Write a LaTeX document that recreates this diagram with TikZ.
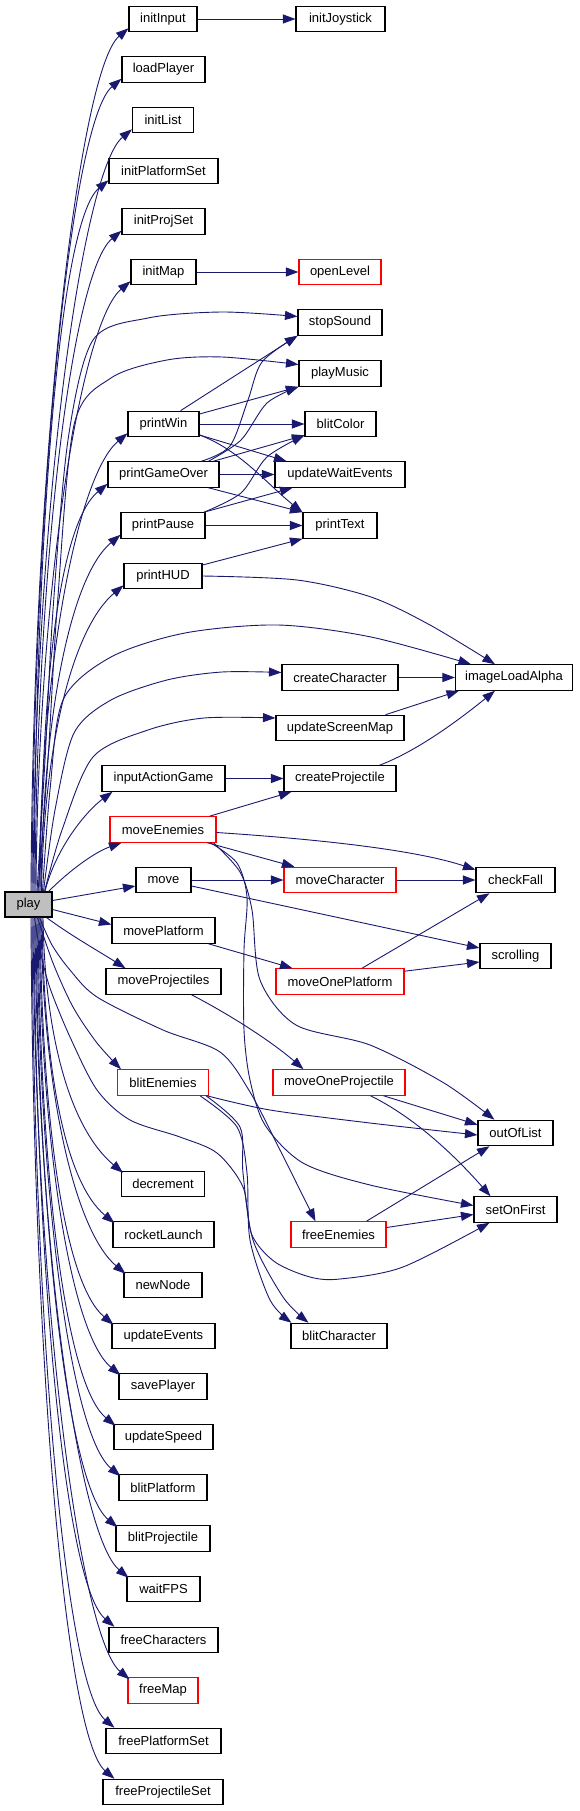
\documentclass[tikz,border=0pt]{standalone}
\usepackage{fontspec}
\setmainfont{Liberation Sans}
\usetikzlibrary{arrows.meta}
\definecolor{edgecol}{RGB}{25,25,112}
\definecolor{playgray}{RGB}{191,191,191}
\newcommand{\nfont}{\fontsize{13pt}{15pt}\selectfont}
\begin{document}
\begin{tikzpicture}[x=1pt,y=-1pt,
 box/.style={draw=black,line width=1.1pt,fill=white,minimum height=25.5pt,inner sep=0pt,font=\nfont},
 rbox/.style={box,draw=red},
 e/.style={draw=edgecol,line width=0.9pt,-{Triangle[length=12.5pt,width=9pt]}},
]
\fill[white] (0,0) rectangle (579,1811);
\useasboundingbox (0,0) rectangle (579,1811);
% root
\node[box,fill=playgray,minimum width=47pt,minimum height=25pt] (play) at (28.5,904.5) {play};
% column 1
\node[box,minimum width=68pt] (initInput) at (163,19) {initInput};
\node[box,minimum width=83pt] (loadPlayer) at (163.5,69.5) {loadPlayer};
\node[box,minimum width=61pt] (initList) at (163,120) {initList};
\node[box,minimum width=109pt] (initPlatformSet) at (163.5,171) {initPlatformSet};
\node[box,minimum width=83pt] (initProjSet) at (163.5,221.5) {initProjSet};
\node[box,minimum width=65pt] (initMap) at (163.5,272) {initMap};
\node[box,minimum width=71pt] (printWin) at (163.5,424) {printWin};
\node[box,minimum width=111pt] (printGameOver) at (163.5,474.5) {printGameOver};
\node[box,minimum width=84pt] (printPause) at (163,525.5) {printPause};
\node[box,minimum width=78pt] (printHUD) at (163,576) {printHUD};
\node[box,minimum width=123pt] (inputActionGame) at (163.5,778.5) {inputActionGame};
\node[rbox,minimum width=106pt] (moveEnemies) at (163,829.5) {moveEnemies};
\node[box,minimum width=55pt] (move) at (163.5,880) {move};
\node[box,minimum width=103pt] (movePlatform) at (163.5,930.5) {movePlatform};
\node[box,minimum width=115pt] (moveProjectiles) at (163.5,981.5) {moveProjectiles};
\node[rbox,minimum width=91pt] (blitEnemies) at (163,1082.5) {blitEnemies};
\node[box,minimum width=83pt] (decrement) at (163,1184) {decrement};
\node[box,minimum width=101pt] (rocketLaunch) at (163.5,1234.5) {rocketLaunch};
\node[box,minimum width=78pt] (newNode) at (163,1285) {newNode};
\node[box,minimum width=103pt] (updateEvents) at (163.5,1336) {updateEvents};
\node[box,minimum width=88pt] (savePlayer) at (163,1386.5) {savePlayer};
\node[box,minimum width=99pt] (updateSpeed) at (163.5,1437) {updateSpeed};
\node[box,minimum width=88pt] (blitPlatform) at (163,1487.5) {blitPlatform};
\node[box,minimum width=94pt] (blitProjectile) at (163,1538.5) {blitProjectile};
\node[box,minimum width=73pt] (waitFPS) at (163.5,1589) {waitFPS};
\node[box,minimum width=109pt] (freeCharacters) at (163.5,1640) {freeCharacters};
\node[rbox,minimum width=70pt] (freeMap) at (163,1690.5) {freeMap};
\node[box,minimum width=115pt] (freePlatformSet) at (163.5,1741) {freePlatformSet};
\node[box,minimum width=120pt] (freeProjectileSet) at (163,1792) {freeProjectileSet};
% column 2
\node[box,minimum width=89pt] (initJoystick) at (340.5,19) {initJoystick};
\node[rbox,minimum width=82pt] (openLevel) at (340,272) {openLevel};
\node[box,minimum width=84pt] (stopSound) at (340,322.5) {stopSound};
\node[box,minimum width=82pt] (playMusic) at (340,373.5) {playMusic};
\node[box,minimum width=71pt] (blitColor) at (340.5,424) {blitColor};
\node[box,minimum width=130pt] (updateWaitEvents) at (340,474.5) {updateWaitEvents};
\node[box,minimum width=74pt] (printText) at (340,525.5) {printText};
\node[box,minimum width=116pt] (createCharacter) at (340,677.5) {createCharacter};
\node[box,minimum width=128pt] (updateScreenMap) at (340,728) {updateScreenMap};
\node[box,minimum width=112pt] (createProjectile) at (340,778.5) {createProjectile};
\node[rbox,minimum width=112pt] (moveCharacter) at (340,880) {moveCharacter};
\node[rbox,minimum width=128pt] (moveOnePlatform) at (340,981.5) {moveOnePlatform};
\node[rbox,minimum width=132pt] (moveOneProjectile) at (339,1082.5) {moveOneProjectile};
\node[rbox,minimum width=95pt] (freeEnemies) at (338.5,1234.5) {freeEnemies};
\node[box,minimum width=96pt] (blitCharacter) at (339,1336) {blitCharacter};
% column 3
\node[box,minimum width=117pt] (imageLoadAlpha) at (514,677.5) {imageLoadAlpha};
\node[box,minimum width=79pt] (checkFall) at (515.5,880) {checkFall};
\node[box,minimum width=71pt] (scrolling) at (515.5,956) {scrolling};
\node[box,minimum width=75pt] (outOfList) at (515.5,1133) {outOfList};
\node[box,minimum width=83pt] (setOnFirst) at (515.5,1209.5) {setOnFirst};

% ---- play -> column 1 (upper)
\draw[e] ([xshift=2.5pt]play.north) .. controls (33,460) and (79,70) .. ([yshift=4pt]initInput.south west);
\draw[e] ([xshift=3.5pt]play.north) .. controls (34,485) and (72,120) .. ([yshift=4pt]loadPlayer.south west);
\draw[e] ([xshift=4.5pt]play.north) .. controls (35,510) and (82,171) .. ([yshift=4pt]initList.south west);
\draw[e] ([xshift=5.5pt]play.north) .. controls (36,536) and (59,221) .. ([yshift=4pt]initPlatformSet.south west);
\draw[e] ([xshift=6.5pt]play.north) .. controls (37,561) and (72,272) .. ([yshift=4pt]initProjSet.south west);
\draw[e] ([xshift=7.5pt]play.north) .. controls (38,587) and (81,323) .. ([yshift=4pt]initMap.south west);
\draw[e] ([xshift=10.5pt]play.north) .. controls (41,662) and (78,475) .. ([yshift=4pt]printWin.south west);
\draw[e] ([xshift=11.5pt]play.north) .. controls (42,688) and (58,525) .. ([yshift=4pt]printGameOver.south west);
\draw[e] ([xshift=12.5pt]play.north) .. controls (43,713) and (71,576) .. ([yshift=4pt]printPause.south west);
\draw[e] ([xshift=13pt]play.north) .. controls (44,739) and (74,627) .. ([yshift=4pt]printHUD.south west);
\draw[e] ([xshift=16.5pt]play.north) .. controls (55,850) and (85,812) .. ([xshift=11pt]inputActionGame.south west);
\draw[e] ([xshift=-4pt]play.north east) .. controls (70,870) and (95,852) .. ([xshift=12pt]moveEnemies.south west);
% ---- play -> long upper edges
\draw[e] plot[smooth] coordinates {([xshift=8.5pt]play.north) (45,760) (53,610) (68,440) (93,340) (148,318) (222,312) ([yshift=6pt]stopSound.west)};
\draw[e] plot[smooth] coordinates {([xshift=9.5pt]play.north) (48,760) (57,610) (74,425) (111,378) (167,360) (222,357) ([yshift=9pt]playMusic.west)};
\draw[e] plot[smooth] coordinates {([xshift=14pt]play.north) (50,790) (63,700) (111,657) (185,633) (278,625) (371,637) ([xshift=16pt]imageLoadAlpha.north west)};
\draw[e] plot[smooth] coordinates {([xshift=15pt]play.north) (55,810) (74,733) (111,700) (167,680) (222,672) ([yshift=5pt]createCharacter.west)};
\draw[e] plot[smooth] coordinates {([xshift=16pt]play.north) (62,830) (93,757) (148,730) (204,718) ([yshift=10pt]updateScreenMap.west)};
% ---- play -> right
\draw[e] ([yshift=4pt]play.east) -- ([yshift=-6pt]move.west);
\draw[e] ([yshift=-5pt]play.east) -- ([yshift=6pt]movePlatform.west);
\draw[e] ([xshift=-6pt]play.south east) .. controls (70,935) and (100,952) .. ([xshift=20pt]moveProjectiles.north west);
\draw[e] plot[smooth] coordinates {([xshift=9pt]play.south) (53,963) (73,1007) (97,1043) ([xshift=4pt]blitEnemies.north west)};
\draw[e] plot[smooth] coordinates {([xshift=11pt]play.south) (52,945) (70,970) (97,997) (163,1030) (220,1052) (250,1092) (280,1150) ([xshift=25pt]freeEnemies.north west)};
\draw[e] plot[smooth] coordinates {([xshift=6pt]play.south) (40,950) (50,988) (70,1037) (97,1090) (130,1120) (180,1137) (217,1153) (243,1187) (252,1235) (275,1262) (310,1277) (340,1279) (403,1267) ([xshift=16pt]setOnFirst.south west)};
% ---- play -> column 1 (lower)
\draw[e] ([xshift=14.5pt]play.south) .. controls (45,1045) and (73,1131) .. ([xshift=2pt,yshift=-2pt]decrement.north west);
\draw[e] ([xshift=13.5pt]play.south) .. controls (44,1071) and (65,1182) .. ([xshift=2pt,yshift=-2pt]rocketLaunch.north west);
\draw[e] ([xshift=12.5pt]play.south) .. controls (43,1096) and (76,1232) .. ([xshift=2pt,yshift=-2pt]newNode.north west);
\draw[e] ([xshift=11.5pt]play.south) .. controls (42,1121) and (64,1283) .. ([xshift=2pt,yshift=-2pt]updateEvents.north west);
\draw[e] ([xshift=10.5pt]play.south) .. controls (41,1147) and (71,1334) .. ([xshift=2pt,yshift=-2pt]savePlayer.north west);
\draw[e] ([xshift=9.5pt]play.south) .. controls (40,1172) and (65,1384) .. ([xshift=2pt,yshift=-2pt]updateSpeed.north west);
\draw[e] ([xshift=8.5pt]play.south) .. controls (39,1197) and (71,1435) .. ([xshift=2pt,yshift=-2pt]blitPlatform.north west);
\draw[e] ([xshift=7.5pt]play.south) .. controls (38,1223) and (68,1486) .. ([xshift=2pt,yshift=-2pt]blitProjectile.north west);
\draw[e] ([xshift=6.5pt]play.south) .. controls (37,1248) and (79,1536) .. ([xshift=2pt,yshift=-2pt]waitFPS.north west);
\draw[e] ([xshift=5.5pt]play.south) .. controls (36,1273) and (65,1585) .. ([xshift=6pt]freeCharacters.north west);
\draw[e] ([xshift=4.5pt]play.south) .. controls (35,1299) and (80,1638) .. ([xshift=2pt,yshift=-2pt]freeMap.north west);
\draw[e] ([xshift=3.5pt]play.south) .. controls (34,1324) and (65,1686) .. ([xshift=9pt]freePlatformSet.north west);
\draw[e] ([xshift=2.5pt]play.south) .. controls (33,1350) and (65,1737) .. ([xshift=12pt]freeProjectileSet.north west);
% ---- other edges
\draw[e] (initInput.east) -- (initJoystick.west);
\draw[e] (initMap.east) -- (openLevel.west);
\draw[e] ([xshift=17pt]printWin.north) -- (stopSound.south west);
\draw[e] ([yshift=10pt]printWin.east) -- (playMusic.south west);
\draw[e] (printWin.east) -- (blitColor.west);
\draw[e] ([yshift=-11pt]printWin.east) -- ([xshift=12pt]updateWaitEvents.north west);
\draw[e] ([yshift=-11pt]printWin.east) .. controls (240,450) and (268,485) .. (printText.north west);
\draw[e] plot[smooth] coordinates {([xshift=38pt]printGameOver.north) (230,446) (248,400) (262,362) (stopSound.south west)};
\draw[e] plot[smooth] coordinates {([xshift=45pt]printGameOver.north) (241,440) (267,403) (playMusic.south west)};
\draw[e] ([xshift=50pt]printGameOver.north) -- ([yshift=2pt]blitColor.south west);
\draw[e] (printGameOver.east) -- (updateWaitEvents.west);
\draw[e] ([xshift=-11pt]printGameOver.south east) -- (printText.north west);
\draw[e] plot[smooth] coordinates {([xshift=41pt]printPause.north) (241,493) (267,457) ([yshift=2pt]blitColor.south west)};
\draw[e] ([xshift=41pt]printPause.north) -- ([xshift=18pt]updateWaitEvents.south west);
\draw[e] (printPause.east) -- (printText.west);
\draw[e] ([yshift=11pt]printHUD.east) -- (printText.south west);
\draw[e] plot[smooth] coordinates {(printHUD.east) (297,580) (371,597) (430,625) ([xshift=40pt]imageLoadAlpha.north west)};
\draw[e] (createCharacter.east) -- (imageLoadAlpha.west);
\draw[e] ([xshift=-19pt]updateScreenMap.north east) -- ([xshift=4pt]imageLoadAlpha.south west);
\draw[e] ([xshift=-17pt]createProjectile.north east) .. controls (420,750) and (465,715) .. ([xshift=40pt]imageLoadAlpha.south west);
\draw[e] (inputActionGame.east) -- (createProjectile.west);
\draw[e] ([xshift=-7pt]moveEnemies.north east) -- ([xshift=8pt]createProjectile.south west);
\draw[e] ([yshift=-3pt]moveEnemies.east) .. controls (300,838) and (410,848) .. ([yshift=-3pt]checkFall.north west);
\draw[e] ([xshift=-9pt]moveEnemies.south east) -- ([xshift=11pt]moveCharacter.north west);
\draw[e] plot[smooth] coordinates {([xshift=-3pt]moveEnemies.south east) (240,872) (252,910) (260,980) (296,1025) (370,1045) (444,1083) ([xshift=17pt]outOfList.north west)};
\draw[e] plot[smooth] coordinates {([xshift=-6pt]moveEnemies.south east) (237,863) (247,897) (244,950) (244,1030) (250,1080) (265,1125) (303,1163) (370,1185) ([yshift=4pt]setOnFirst.west)};
\draw[e] (move.east) -- (moveCharacter.west);
\draw[e] ([yshift=-6pt]move.east) -- ([yshift=8pt]scrolling.west);
\draw[e] (moveCharacter.east) -- (checkFall.west);
\draw[e] ([xshift=-7pt]movePlatform.south east) -- ([xshift=17pt]moveOnePlatform.north west);
\draw[e] ([xshift=22pt]moveOnePlatform.north) -- ([xshift=14pt]checkFall.south west);
\draw[e] ([yshift=-3pt]moveOnePlatform.north east) -- ([yshift=-6pt]scrolling.west);
\draw[e] ([xshift=-30pt]moveProjectiles.south east) .. controls (225,1012) and (270,1040) .. ([xshift=31pt]moveOneProjectile.north west);
\draw[e] ([xshift=-22pt]moveOneProjectile.south east) -- ([yshift=-5pt]outOfList.north west);
\draw[e] ([xshift=-35pt]moveOneProjectile.south east) .. controls (410,1115) and (450,1150) .. ([xshift=17pt]setOnFirst.north west);
\draw[e] plot[smooth] coordinates {([xshift=-2pt]blitEnemies.south east) (270,1110) (370,1123) ([yshift=-2pt]outOfList.west)};
\draw[e] plot[smooth] coordinates {([xshift=-9pt]blitEnemies.south east) (237,1127) (247,1173) (250,1240) (270,1300) ([xshift=1pt]blitCharacter.north west)};
\draw[e] plot[smooth] coordinates {([xshift=-3pt]blitEnemies.south east) (240,1127) (243,1173) (253,1240) (283,1297) ([xshift=18pt]blitCharacter.north west)};
\draw[e] ([xshift=28pt]freeEnemies.north) -- ([xshift=12pt]outOfList.south west);
\draw[e] ([yshift=7pt]freeEnemies.east) -- ([yshift=-5pt]setOnFirst.west);
\end{tikzpicture}
\end{document}
